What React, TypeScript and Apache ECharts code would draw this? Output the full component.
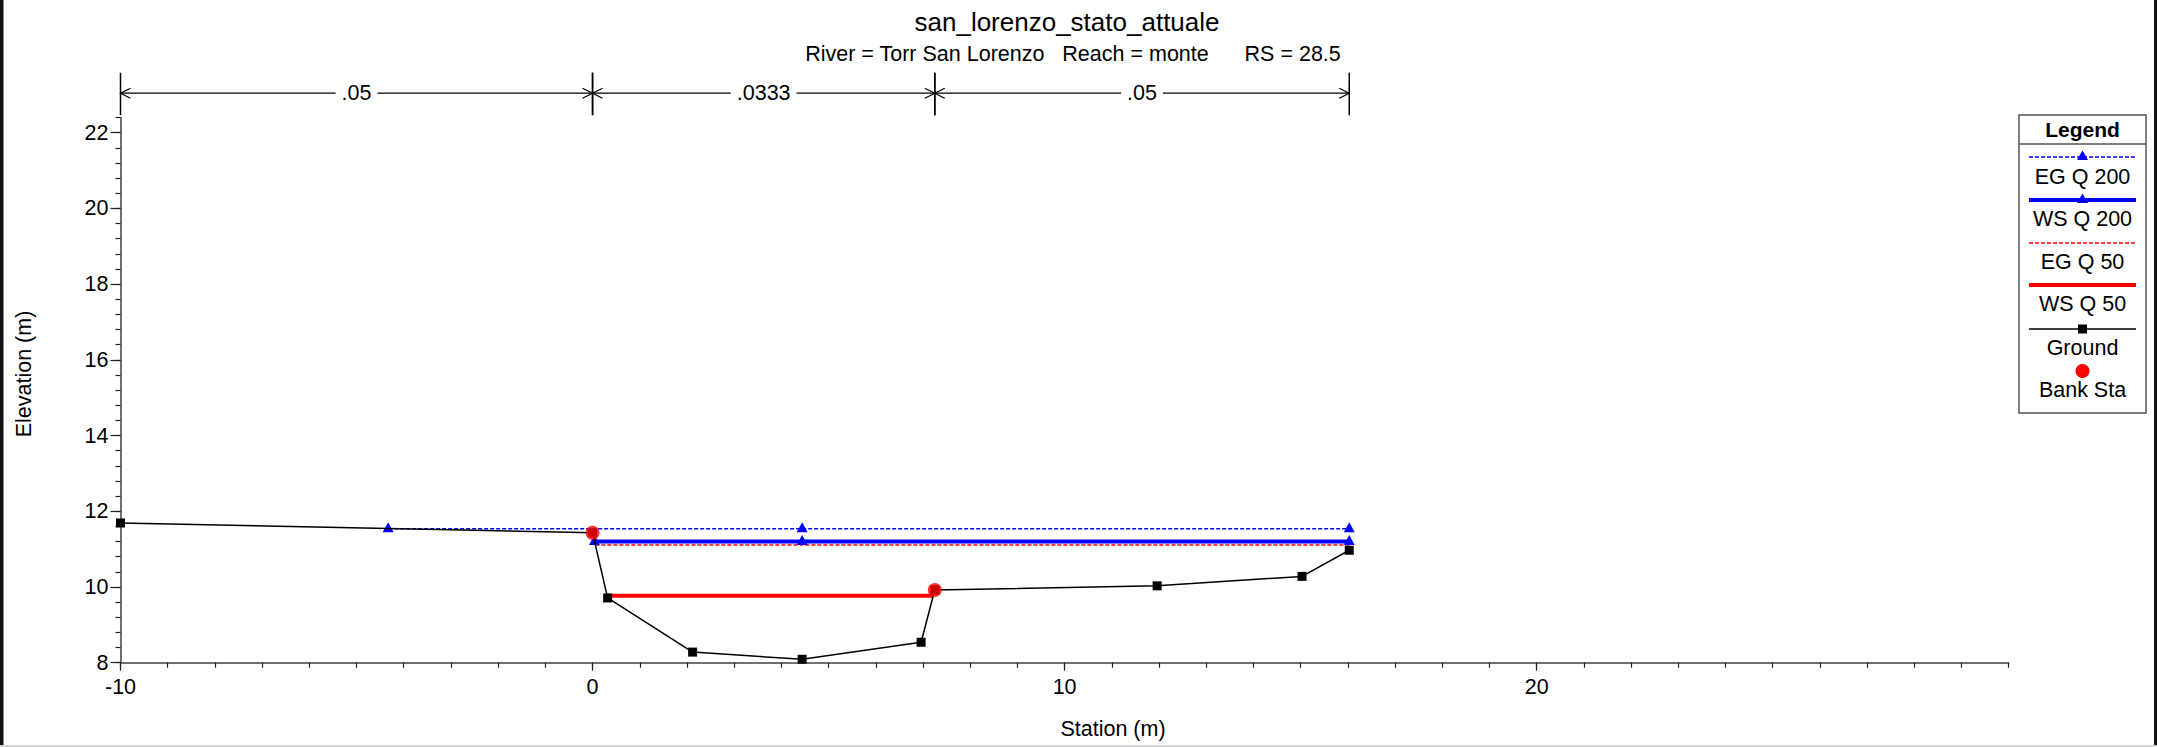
import React, { useEffect, useRef } from "react";
import * as echarts from "echarts";

// ---- data ----
const groundStation = [-10, 0, 0.32, 2.12, 4.44, 6.96, 7.25, 11.96, 15.03, 16.03];
const groundElev = [11.69, 11.43, 9.71, 8.28, 8.09, 8.54, 9.92, 10.03, 10.28, 10.97];
const egQ200Station = [-4.33, 4.44, 16.03];
const egQ200Elev = [11.54, 11.54, 11.54];
const wsQ200Station = [0.04, 4.44, 16.03];
const wsQ200Elev = [11.2, 11.2, 11.2];
const egQ50Station = [0.06, 16.03];
const egQ50Elev = [11.11, 11.11];
const wsQ50Station = [0.29, 7.21];
const wsQ50Elev = [9.77, 9.77];
const bankStation = [0, 7.25];
const bankElev = [11.43, 9.92];
const manningBreaks = [-10, 0, 7.25, 16.03];
const manningValues = [".05", ".0333", ".05"];
const xTickLabels = [-10, 0, 10, 20];
const yTickLabels = [8, 10, 12, 14, 16, 18, 20, 22];
const legendItems = ["EG Q 200", "WS Q 200", "EG Q 50", "WS Q 50", "Ground", "Bank Sta"];

const X_MIN = -10;
const X_MAX = 30;
const Y_MIN = 8;
const Y_MAX = 22.4;

const FONT = "Liberation Sans, Arial, sans-serif";
const BLUE = "#0000ff";
const RED = "#ff0000";

const pairs = (xs: number[], ys: number[]) => xs.map((x, i) => [x, ys[i]]);

function txt(x: number, y: number, text: string, size: number, extra: any = {}) {
  return {
    type: "text",
    x,
    y,
    silent: true,
    ...extra,
    style: {
      text,
      fill: "#000",
      fontSize: size,
      fontFamily: FONT,
      fontWeight: extra.bold ? "bold" : "normal",
      align: "center",
      verticalAlign: "middle",
      textAlign: "center",
      textVerticalAlign: "middle",
    },
  };
}

function buildLegend() {
  const L = 2019, T = 115, W = 127, H = 298;
  const cx = L + W / 2;
  const x0 = 2029, x1 = 2136;
  const els: any[] = [
    { type: "rect", shape: { x: L, y: T, width: W, height: H }, style: { fill: "#fff", stroke: "#555", lineWidth: 1.5 }, silent: true },
    { type: "line", shape: { x1: L, y1: 144, x2: L + W, y2: 144 }, style: { stroke: "#555", lineWidth: 1.5 }, silent: true },
    txt(cx, 129, "Legend", 21, { bold: true }),
  ];
  const tri = (y: number, c: string) => ({
    type: "polygon",
    shape: { points: [[cx, y - 6.5], [cx - 5.5, y + 3], [cx + 5.5, y + 3]] },
    style: { fill: c },
    silent: true,
  });
  // EG Q 200
  els.push({ type: "line", shape: { x1: x0, y1: 157, x2: x1, y2: 157 }, style: { stroke: BLUE, lineWidth: 1.5, lineDash: [4, 2] }, silent: true });
  els.push(tri(157, BLUE));
  els.push(txt(cx, 177, legendItems[0], 21.5));
  // WS Q 200
  els.push({ type: "line", shape: { x1: x0, y1: 200, x2: x1, y2: 200 }, style: { stroke: BLUE, lineWidth: 4 }, silent: true });
  els.push(tri(200, BLUE));
  els.push(txt(cx, 219, legendItems[1], 21.5));
  // EG Q 50
  els.push({ type: "line", shape: { x1: x0, y1: 243, x2: x1, y2: 243 }, style: { stroke: RED, lineWidth: 1.5, lineDash: [4, 2] }, silent: true });
  els.push(txt(cx, 262, legendItems[2], 21.5));
  // WS Q 50
  els.push({ type: "line", shape: { x1: x0, y1: 285, x2: x1, y2: 285 }, style: { stroke: RED, lineWidth: 4 }, silent: true });
  els.push(txt(cx, 304, legendItems[3], 21.5));
  // Ground
  els.push({ type: "line", shape: { x1: x0, y1: 329, x2: x1, y2: 329 }, style: { stroke: "#000", lineWidth: 1.5 }, silent: true });
  els.push({ type: "rect", shape: { x: cx - 4.5, y: 324.5, width: 9, height: 9 }, style: { fill: "#000" }, silent: true });
  els.push(txt(cx, 348, legendItems[4], 21.5));
  // Bank Sta
  els.push({ type: "circle", shape: { cx, cy: 371, r: 7 }, style: { fill: RED }, silent: true });
  els.push(txt(cx, 390, legendItems[5], 21.5));
  return els;
}

export default function App() {
  const ref = useRef<HTMLDivElement>(null);
  useEffect(() => {
    if (!ref.current) return;
    const chart = echarts.init(ref.current, undefined, { renderer: "svg" });
    const option: any = {
      animation: false,
      backgroundColor: "#fff",
      textStyle: { fontFamily: FONT },
      grid: { left: 120.5, top: 117.5, width: 1888.2, height: 545.2, containLabel: false },
      xAxis: [
        {
          type: "value",
          min: X_MIN,
          max: X_MAX,
          interval: 10,
          position: "bottom",
          splitLine: { show: false },
          axisLine: { onZero: false, lineStyle: { color: "#404040", width: 1.5 } },
          axisTick: { length: 8, customValues: xTickLabels, lineStyle: { color: "#222", width: 1.2 } },
          axisLabel: { customValues: xTickLabels, color: "#000", fontSize: 21.5, fontFamily: FONT, margin: 13 },
        },
        {
          type: "value",
          min: X_MIN,
          max: X_MAX,
          interval: 1,
          position: "bottom",
          splitLine: { show: false },
          axisLine: { show: false, onZero: false },
          axisTick: { length: 5, lineStyle: { color: "#222", width: 1.2 } },
          axisLabel: { show: false },
        },
      ],
      yAxis: [
        {
          type: "value",
          min: Y_MIN,
          max: Y_MAX,
          interval: 2,
          position: "left",
          splitLine: { show: false },
          axisLine: { onZero: false, lineStyle: { color: "#404040", width: 1.5 } },
          axisTick: { length: 10, customValues: yTickLabels, lineStyle: { color: "#222", width: 1.2 } },
          axisLabel: { customValues: yTickLabels, color: "#000", fontSize: 21.5, fontFamily: FONT, margin: 12 },
        },
        {
          type: "value",
          min: Y_MIN,
          max: Y_MAX,
          interval: 0.4,
          position: "left",
          splitLine: { show: false },
          axisLine: { show: false, onZero: false },
          axisTick: { length: 5, lineStyle: { color: "#222", width: 1.2 } },
          axisLabel: { show: false },
        },
      ],
      series: [
        {
          name: "EG Q 200",
          type: "line",
          data: pairs(egQ200Station, egQ200Elev),
          lineStyle: { color: BLUE, width: 1.5, type: [4, 2] },
          itemStyle: { color: BLUE },
          symbol: "triangle",
          symbolSize: [11, 10],
          symbolOffset: [0, -1.5],
          z: 3,
        },
        {
          name: "WS Q 200",
          type: "line",
          data: pairs(wsQ200Station, wsQ200Elev),
          lineStyle: { color: BLUE, width: 4 },
          itemStyle: { color: BLUE },
          symbol: "triangle",
          symbolSize: [11, 10],
          symbolOffset: [0, -1.5],
          z: 3,
        },
        {
          name: "EG Q 50",
          type: "line",
          data: pairs(egQ50Station, egQ50Elev),
          lineStyle: { color: RED, width: 1.5, type: [4, 2] },
          symbol: "none",
          z: 2,
        },
        {
          name: "WS Q 50",
          type: "line",
          data: pairs(wsQ50Station, wsQ50Elev),
          lineStyle: { color: RED, width: 4 },
          symbol: "none",
          z: 3,
        },
        {
          name: "Ground",
          type: "line",
          data: pairs(groundStation, groundElev),
          lineStyle: { color: "#000", width: 1.5 },
          itemStyle: { color: "#000" },
          symbol: "rect",
          symbolSize: 9,
          z: 4,
        },
        {
          name: "Bank Sta",
          type: "scatter",
          data: pairs(bankStation, bankElev),
          itemStyle: { color: RED },
          symbol: "circle",
          symbolSize: 14,
          z: 5,
        },
        {
          name: "Manning n",
          type: "custom",
          clip: false,
          silent: true,
          data: manningValues.map((_, i) => [manningBreaks[i], manningBreaks[i + 1]]),
          renderItem: (params: any, api: any) => {
            const xa = api.coord([api.value(0), Y_MAX])[0];
            const xb = api.coord([api.value(1), Y_MAX])[0];
            const yTop = api.coord([0, Y_MAX])[1];
            const y = yTop - 24.3;
            const s = { stroke: "#000", lineWidth: 1.2, fill: "none" };
            const label = manningValues[params.dataIndex];
            return {
              type: "group",
              children: [
                { type: "line", shape: { x1: xa, y1: y, x2: xb, y2: y }, style: s },
                { type: "polyline", shape: { points: [[xa + 10, y - 5], [xa, y], [xa + 10, y + 5]] }, style: s },
                { type: "polyline", shape: { points: [[xb - 10, y - 5], [xb, y], [xb - 10, y + 5]] }, style: s },
                { type: "line", shape: { x1: xa, y1: y - 20.5, x2: xa, y2: y + 22 }, style: { stroke: "#000", lineWidth: 1.5 } },
                { type: "line", shape: { x1: xb, y1: y - 20.5, x2: xb, y2: y + 22 }, style: { stroke: "#000", lineWidth: 1.5 } },
                {
                  type: "text",
                  x: (xa + xb) / 2,
                  y: y,
                  style: {
                    text: label,
                    fill: "#000",
                    fontSize: 21.5,
                    fontFamily: FONT,
                    align: "center",
                    verticalAlign: "middle",
                    backgroundColor: "#fff",
                    padding: [0, 6],
                  },
                },
              ],
            };
          },
          z: 6,
        },
      ],
      graphic: [
        { type: "rect", shape: { x: 0, y: 0, width: 3.5, height: 747 }, style: { fill: "#111" }, silent: true },
        { type: "rect", shape: { x: 2154, y: 0, width: 3, height: 747 }, style: { fill: "#111" }, silent: true },
        { type: "rect", shape: { x: 0, y: 745, width: 2157, height: 2 }, style: { fill: "#d4d4d4" }, silent: true },
        txt(1067, 22, "san_lorenzo_stato_attuale", 26),
        txt(1073, 54, "River = Torr San Lorenzo   Reach = monte      RS = 28.5", 21.5),
        txt(1113, 729, "Station (m)", 21.5),
        txt(24, 374, "Elevation (m)", 21.5, { rotation: Math.PI / 2 }),
        ...buildLegend(),
      ],
    };
    chart.setOption(option);
    return () => chart.dispose();
  }, []);
  return (
    <div
      ref={ref}
      style={{ position: "absolute", left: 0, top: 0, width: 2157, height: 747 }}
    />
  );
}
